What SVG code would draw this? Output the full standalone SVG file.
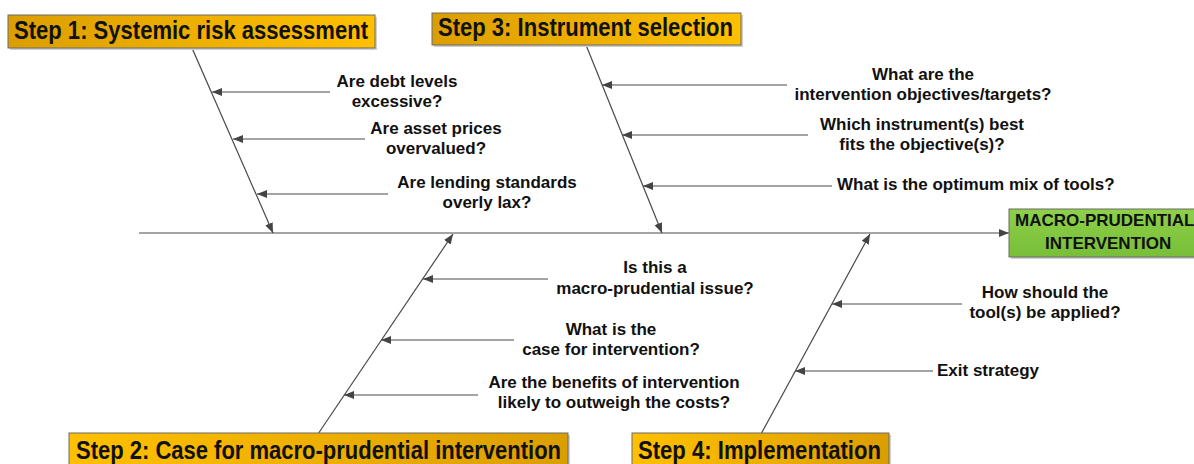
<svg xmlns="http://www.w3.org/2000/svg" width="1194" height="464" viewBox="0 0 1194 464">
  <defs>
    <linearGradient id="goldR" x1="0" y1="0" x2="1" y2="0">
      <stop offset="0" stop-color="#DB9E00"/>
      <stop offset="1" stop-color="#FFC000"/>
    </linearGradient>
    <linearGradient id="goldL" x1="0" y1="0" x2="1" y2="0">
      <stop offset="0" stop-color="#FFC000"/>
      <stop offset="1" stop-color="#DB9E00"/>
    </linearGradient>
    <linearGradient id="green" x1="0" y1="0" x2="0" y2="1">
      <stop offset="0" stop-color="#8ED04A"/>
      <stop offset="1" stop-color="#78BE38"/>
    </linearGradient>
    <marker id="arr" markerWidth="10" markerHeight="8" refX="10" refY="4" orient="auto" markerUnits="userSpaceOnUse">
      <path d="M0,0 L10,4 L0,8 Z" fill="#444"/>
    </marker>
    <style>
      .line { stroke: #4a4a4a; stroke-width: 1.2; fill: none; }
      .box { stroke: #6b6b6b; stroke-width: 1; }
      .shadow { fill: #d0d0d0; }
      .title { font-family: "Liberation Sans", Arial, sans-serif; font-weight: bold; font-size: 25px; fill: #111; }
      .q { font-family: "Liberation Sans", Arial, sans-serif; font-weight: bold; font-size: 17px; fill: #111; text-anchor: middle; }
      .qs { font-family: "Liberation Sans", Arial, sans-serif; font-weight: bold; font-size: 17px; fill: #111; }
      .eff { font-family: "Liberation Sans", Arial, sans-serif; font-weight: bold; font-size: 17px; fill: #111; }
    </style>
  </defs>

  <rect width="1194" height="464" fill="#ffffff"/>

  <g id="connectors">
    <line class="line" x1="139" y1="233" x2="1009" y2="233" marker-end="url(#arr)"/>
    <line class="line" x1="192" y1="48" x2="273" y2="233" marker-end="url(#arr)"/>
    <line class="line" x1="586" y1="45" x2="662" y2="233" marker-end="url(#arr)"/>
    <line class="line" x1="318" y1="434" x2="453" y2="234" marker-end="url(#arr)"/>
    <line class="line" x1="761" y1="434" x2="870" y2="234" marker-end="url(#arr)"/>
    <line class="line" x1="330" y1="92" x2="212" y2="92" marker-end="url(#arr)"/>
    <line class="line" x1="365" y1="139" x2="233" y2="139" marker-end="url(#arr)"/>
    <line class="line" x1="388" y1="194" x2="257" y2="194" marker-end="url(#arr)"/>
    <line class="line" x1="787" y1="85" x2="602" y2="85" marker-end="url(#arr)"/>
    <line class="line" x1="808" y1="135" x2="622" y2="135" marker-end="url(#arr)"/>
    <line class="line" x1="832" y1="186" x2="643" y2="186" marker-end="url(#arr)"/>
    <line class="line" x1="548" y1="279" x2="423" y2="279" marker-end="url(#arr)"/>
    <line class="line" x1="514" y1="340" x2="381" y2="340" marker-end="url(#arr)"/>
    <line class="line" x1="478" y1="395" x2="344" y2="395" marker-end="url(#arr)"/>
    <line class="line" x1="962" y1="304" x2="832" y2="304" marker-end="url(#arr)"/>
    <line class="line" x1="933" y1="371" x2="795" y2="371" marker-end="url(#arr)"/>
  </g>

  <g id="labels">
    <text class="q" x="397" y="87">Are debt levels</text>
    <text class="q" x="397" y="107">excessive?</text>
    <text class="q" x="436" y="134">Are asset prices</text>
    <text class="q" x="436" y="154">overvalued?</text>
    <text class="q" x="487" y="188">Are lending standards</text>
    <text class="q" x="487" y="208">overly lax?</text>

    <text class="q" x="923" y="80">What are the</text>
    <text class="q" x="923" y="100">intervention objectives/targets?</text>
    <text class="q" x="922" y="130">Which instrument(s) best</text>
    <text class="q" x="922" y="150">fits the objective(s)?</text>
    <text class="qs" x="837" y="190">What is the optimum mix of tools?</text>

    <text class="q" x="655" y="273">Is this a</text>
    <text class="q" x="655" y="294">macro-prudential issue?</text>
    <text class="q" x="611" y="335">What is the</text>
    <text class="q" x="611" y="355">case for intervention?</text>
    <text class="q" x="614" y="388">Are the benefits of intervention</text>
    <text class="q" x="614" y="408">likely to outweigh the costs?</text>

    <text class="q" x="1045" y="298">How should the</text>
    <text class="q" x="1045" y="318">tool(s) be applied?</text>
    <text class="qs" x="937" y="376">Exit strategy</text>
  </g>

  <g id="step1">
    <rect class="shadow" x="10" y="17" width="367" height="33"/>
    <rect class="box" x="8" y="15" width="367" height="33" fill="url(#goldR)"/>
    <text class="title" x="14" y="39" textLength="354" lengthAdjust="spacingAndGlyphs">Step 1: Systemic risk assessment</text>
  </g>

  <g id="step3">
    <rect class="shadow" x="434" y="15" width="309" height="32"/>
    <rect class="box" x="432" y="13" width="309" height="32" fill="url(#goldR)"/>
    <text class="title" x="438" y="36" textLength="295" lengthAdjust="spacingAndGlyphs">Step 3: Instrument selection</text>
  </g>

  <g id="step2">
    <rect class="shadow" x="71" y="435" width="499" height="36"/>
    <rect class="box" x="69" y="433" width="499" height="36" fill="url(#goldL)"/>
    <text class="title" x="76" y="459" textLength="485" lengthAdjust="spacingAndGlyphs">Step 2: Case for macro-prudential intervention</text>
  </g>

  <g id="step4">
    <rect class="shadow" x="634" y="435" width="257" height="36"/>
    <rect class="box" x="632" y="433" width="257" height="36" fill="url(#goldL)"/>
    <text class="title" x="638" y="459" textLength="243" lengthAdjust="spacingAndGlyphs">Step 4: Implementation</text>
  </g>

  <g id="effect">
    <rect class="shadow" x="1011" y="211" width="200" height="48"/>
    <rect class="box" x="1009" y="209" width="200" height="48" fill="url(#green)"/>
    <text class="eff" x="1015" y="226">MACRO-PRUDENTIAL</text>
    <text class="eff" x="1045" y="249">INTERVENTION</text>
  </g>
</svg>
